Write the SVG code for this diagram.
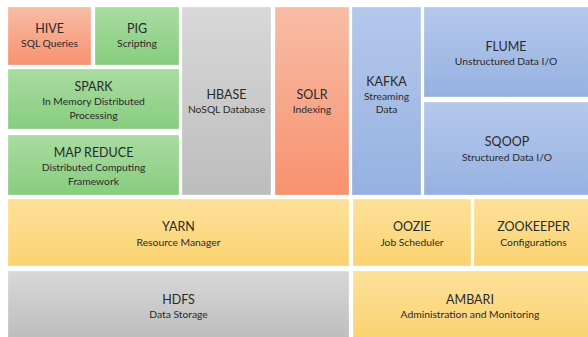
<svg xmlns="http://www.w3.org/2000/svg" width="588" height="337" viewBox="0 0 588 337">
<defs>
<linearGradient id="gSalmon" x1="0" y1="0" x2="0" y2="1"><stop offset="0" stop-color="#F7BDA6"/><stop offset="1" stop-color="#F8916F"/></linearGradient>
<linearGradient id="gGreen" x1="0" y1="0" x2="0" y2="1"><stop offset="0" stop-color="#A9DCA1"/><stop offset="1" stop-color="#87CD7E"/></linearGradient>
<linearGradient id="gGray" x1="0" y1="0" x2="0" y2="1"><stop offset="0" stop-color="#D8D8D8"/><stop offset="1" stop-color="#BDBDBD"/></linearGradient>
<linearGradient id="gBlue" x1="0" y1="0" x2="0" y2="1"><stop offset="0" stop-color="#B5C8EC"/><stop offset="1" stop-color="#96B1E1"/></linearGradient>
<linearGradient id="gYellow" x1="0" y1="0" x2="0" y2="1"><stop offset="0" stop-color="#FDE19A"/><stop offset="1" stop-color="#FBD271"/></linearGradient>
</defs>
<style>
rect{stroke:#ffffff;stroke-opacity:0.35;stroke-width:0.8}
.salmon{fill:url(#gSalmon)}
.green{fill:url(#gGreen)}
.gray{fill:url(#gGray)}
.blue{fill:url(#gBlue)}
.yellow{fill:url(#gYellow)}
text{font-family:Lato,"Open Sans","Liberation Sans",sans-serif;fill:#2a2a2a;text-anchor:middle}
.t{font-size:12.5px}
.s{font-size:10.3px}
</style>
<rect width="588" height="337" fill="#ffffff" stroke="none"/>
<g id="hive"><rect class="salmon" x="8" y="7" width="83" height="58"/><text class="t" x="49.5" y="33">HIVE</text><text class="s" x="49.5" y="47">SQL Queries</text></g>
<g id="pig"><rect class="green" x="95" y="7" width="84" height="58"/><text class="t" x="137" y="33">PIG</text><text class="s" x="137" y="47">Scripting</text></g>
<g id="spark"><rect class="green" x="8" y="69" width="171" height="60"/><text class="t" x="93.5" y="91">SPARK</text><text class="s" x="93.5" y="105">In Memory Distributed</text><text class="s" x="93.5" y="119">Processing</text></g>
<g id="mapreduce"><rect class="green" x="8" y="135" width="171" height="60"/><text class="t" x="93.5" y="157">MAP REDUCE</text><text class="s" x="93.5" y="171">Distributed Computing</text><text class="s" x="93.5" y="185">Framework</text></g>
<g id="hbase"><rect class="gray" x="182" y="7" width="89" height="188"/><text class="t" x="226.5" y="99">HBASE</text><text class="s" x="226.5" y="113">NoSQL Database</text></g>
<g id="solr"><rect class="salmon" x="275" y="7" width="74" height="188"/><text class="t" x="312" y="99">SOLR</text><text class="s" x="312" y="113">Indexing</text></g>
<g id="kafka"><rect class="blue" x="352" y="7" width="69" height="188"/><text class="t" x="386.5" y="86">KAFKA</text><text class="s" x="386.5" y="99.5">Streaming</text><text class="s" x="386.5" y="113">Data</text></g>
<g id="flume"><rect class="blue" x="424" y="7" width="166" height="90"/><text class="t" x="506" y="50.5">FLUME</text><text class="s" x="506" y="64.5">Unstructured Data I/O</text></g>
<g id="sqoop"><rect class="blue" x="424" y="102" width="166" height="93"/><text class="t" x="507" y="146">SQOOP</text><text class="s" x="507" y="160.5">Structured Data I/O</text></g>
<g id="yarn"><rect class="yellow" x="8" y="199" width="341" height="67"/><text class="t" x="178.5" y="231">YARN</text><text class="s" x="178.5" y="245.5">Resource Manager</text></g>
<g id="oozie"><rect class="yellow" x="353" y="199" width="118" height="67"/><text class="t" x="412" y="231">OOZIE</text><text class="s" x="412" y="245.5">Job Scheduler</text></g>
<g id="zookeeper"><rect class="yellow" x="474" y="199" width="116" height="67"/><text class="t" x="533.5" y="231">ZOOKEEPER</text><text class="s" x="533.5" y="245.5">Configurations</text></g>
<g id="hdfs"><rect class="gray" x="8" y="271" width="341" height="68"/><text class="t" x="178.5" y="304">HDFS</text><text class="s" x="178.5" y="318">Data Storage</text></g>
<g id="ambari"><rect class="yellow" x="353" y="271" width="237" height="68"/><text class="t" x="470" y="304">AMBARI</text><text class="s" x="470" y="318">Administration and Monitoring</text></g>
<g id="connectors"/>
</svg>
